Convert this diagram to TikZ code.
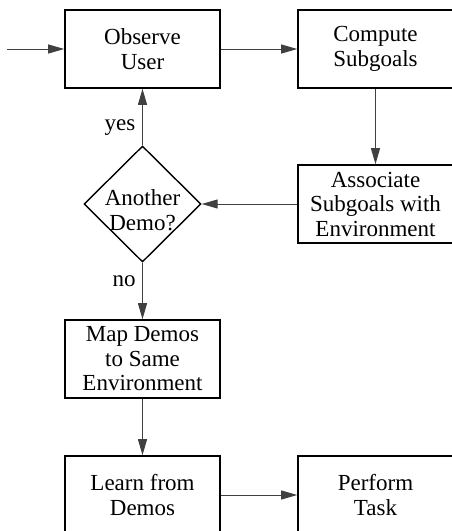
\documentclass[tikz,border=0pt]{standalone}
\usepackage{fontspec}
\setmainfont{Liberation Serif}
\usetikzlibrary{arrows.meta,shapes.geometric}

\begin{document}
\begin{tikzpicture}
    [x=1pt,y=-1pt,
     block/.style={rectangle,draw,line width=1.6pt,minimum width=155pt,minimum height=78pt,
       align=center,inner sep=0pt,font=\fontsize{23}{24.5}\selectfont},
     decision/.style={diamond,draw,line width=1.4pt,minimum width=117pt,minimum height=116pt,
       inner sep=0pt},
     lbl/.style={font=\fontsize{23}{24.5}\selectfont,inner sep=0pt,align=center},
     flow/.style={->,draw=black!75,line width=1pt,>={Triangle[length=16pt,width=9pt]}}]
    \useasboundingbox (0,0) rectangle (452,531);
    \clip (0,0) rectangle (452,531);

    \node at (142.5,49)  (observe) [block] {Observe\\User};
    \node at (375.5,49)  (compute) [block] {Compute\\Subgoals};
    \node at (375.5,204) (assoc)   [block] {Associate\\Subgoals with\\Environment};
    \node at (142.5,204) (another) [decision] {};
    \node at (142.5,210) (another text) [lbl] {Another\\Demo?};
    \node at (142.5,359) (map)     [block] {Map Demos\\to Same\\Environment};
    \node at (142.5,495) (learn)   [block] {Learn from\\Demos};
    \node at (375.5,495) (perform) [block] {Perform\\Task};

    \coordinate (in) at (7,49);

    \draw[flow] (in) -- (observe);
    \draw[flow] (observe) -- (compute);
    \draw[flow] (compute) -- (assoc);
    \draw[flow] (assoc) -- (another);
    \draw[flow] (another) -- (observe);
    \draw[flow] (another) -- (map);
    \draw[flow] (map) -- (learn);
    \draw[flow] (learn) -- (perform);

    \node at (120,128) (yes) [lbl] {yes};
    \node at (124,281) (no)  [lbl] {no};
  \end{tikzpicture}
\end{document}
